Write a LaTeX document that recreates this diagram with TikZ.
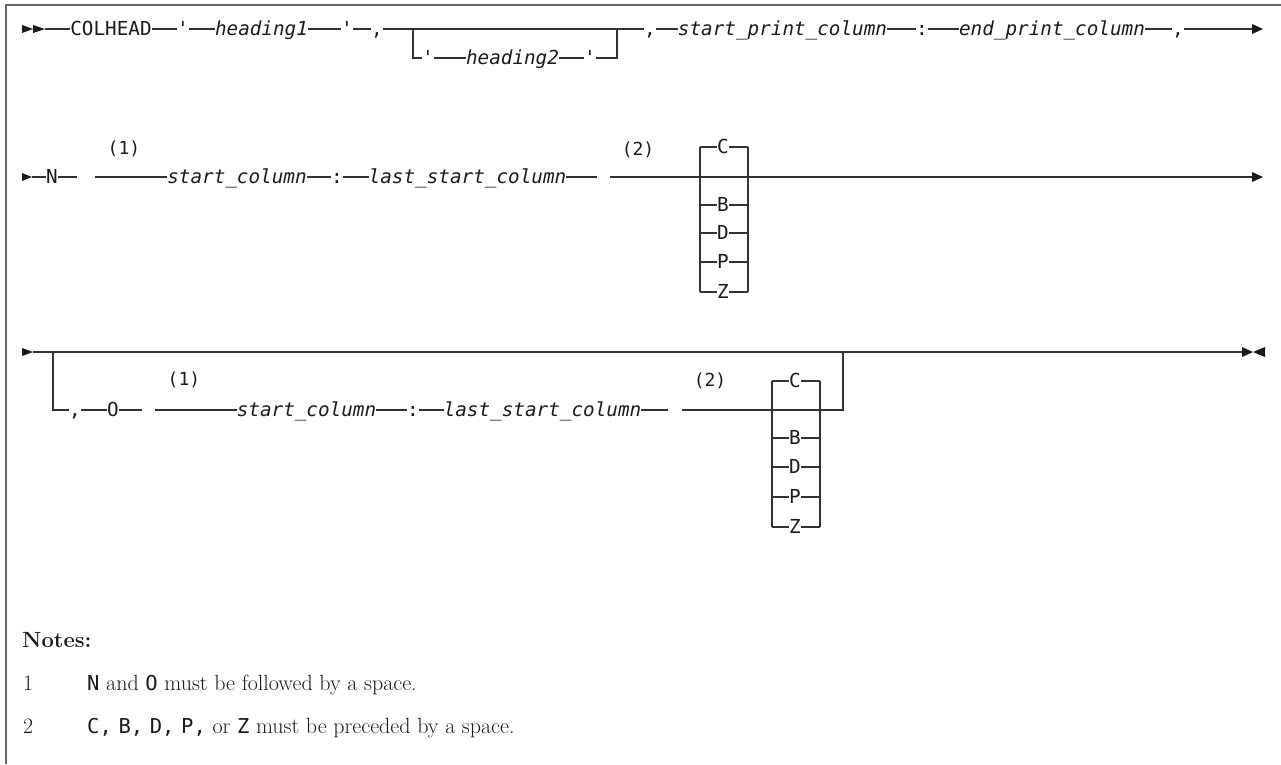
\documentclass[tikz,border=0pt]{standalone}
\usepackage{fontspec}
\newfontfamily\rrfont{DejaVu Sans Mono}
\definecolor{railc}{HTML}{333333}
\definecolor{framec}{HTML}{666666}
\definecolor{txtc}{HTML}{1A1A1A}
\begin{document}
\begin{tikzpicture}[x=1pt,y=-1pt,
  rail/.style={draw=railc, line width=1.3pt, line join=miter},
  tip/.style={fill=txtc},
  tk/.style={inner sep=0pt, text height=14pt, text depth=2pt, text=txtc, font=\fontsize{19.3}{22}\rrfont},
  tki/.style={tk, font=\fontsize{19.3}{22}\rrfont\itshape},
  sup/.style={inner sep=0pt, text=txtc, font=\fontsize{18}{20}\rrfont},
  note/.style={inner sep=0pt, anchor=base west, text=txtc, font=\fontsize{22}{26}\selectfont},
  frame/.style={draw=framec, line width=1.8pt}
]
\useasboundingbox (0,0) rectangle (1281,764);
\draw[frame] (6,764) -- (6,5) -- (1281,5);

% ---------------- Row 1 ----------------
\fill[tip] (22,25) -- (33,29) -- (22,33) -- cycle;
\fill[tip] (33,25) -- (45,29) -- (33,33) -- cycle;
\coordinate (r1s) at (45,29);
\node[tk] (colhead) at (111,29) {COLHEAD};
\node[tk] (q1) at (183,29) {'};
\node[tki] (h1) at (261.5,29) {heading1};
\node[tk] (q2) at (347,29) {'};
\node[tk] (c1) at (377,29) {,};
\coordinate (b1L) at (413,29);
\coordinate (b1R) at (617,29);
\coordinate (b1Ld) at (413,58);
\coordinate (b1Rd) at (617,58);
\node[tk] (q3) at (428,58) {'};
\node[tki] (h2) at (512.5,58) {heading2};
\node[tk] (q4) at (590,58) {'};
\node[tk] (c2) at (650,29) {,};
\node[tki] (spc) at (782.5,29) {start\_print\_column};
\node[tk] (col1) at (922,29) {:};
\node[tki] (epc) at (1052,29) {end\_print\_column};
\node[tk] (c3) at (1178,29) {,};
\coordinate (r1e) at (1252,29);
\fill[tip] (1252,24) -- (1263,29) -- (1252,34) -- cycle;

\draw[rail] (r1s) -- (colhead);
\draw[rail] (colhead) -- (q1);
\draw[rail] (q1) -- (h1);
\draw[rail] (h1) -- (q2);
\draw[rail] (q2) -- (c1);
\draw[rail] (c1) -- (b1L) -- (b1R) -- (c2);
\draw[rail] (b1L) -- (b1Ld) -- (q3);
\draw[rail] (q3) -- (h2);
\draw[rail] (h2) -- (q4);
\draw[rail] (q4) -- (b1Rd) -- (b1R);
\draw[rail] (c2) -- (spc);
\draw[rail] (spc) -- (col1);
\draw[rail] (col1) -- (epc);
\draw[rail] (epc) -- (c3);
\draw[rail] (c3) -- (r1e);

% ---------------- Row 2 ----------------
\fill[tip] (22,173) -- (32,177) -- (22,181) -- cycle;
\coordinate (r2s) at (32,177);
\node[tk] (n) at (52,177) {N};
\coordinate (g1a) at (77,177);
\coordinate (g1b) at (95,177);
\node[sup] (s1) at (124,149) {(1)};
\node[tki] (sc1) at (237,177) {start\_column};
\node[tk] (col2) at (337,177) {:};
\node[tki] (lsc1) at (467.5,177) {last\_start\_column};
\coordinate (g2a) at (597,177);
\coordinate (g2b) at (610,177);
\node[sup] (s2) at (638,150) {(2)};
\coordinate (k1L) at (700,177);
\coordinate (k1R) at (748,177);
\coordinate (k1Lt) at (700,147);
\coordinate (k1Rt) at (748,147);
\coordinate (k1Lb) at (700,292);
\coordinate (k1Rb) at (748,292);
\node[tk] (k1C) at (723,147) {C};
\node[tk] (k1B) at (723,205) {B};
\node[tk] (k1D) at (723,233) {D};
\node[tk] (k1P) at (723,262) {P};
\node[tk] (k1Z) at (723,292) {Z};
\coordinate (r2e) at (1252,177);
\fill[tip] (1252,172) -- (1263,177) -- (1252,182) -- cycle;

\draw[rail] (r2s) -- (n);
\draw[rail] (n) -- (g1a);
\draw[rail] (g1b) -- (sc1);
\draw[rail] (sc1) -- (col2);
\draw[rail] (col2) -- (lsc1);
\draw[rail] (lsc1) -- (g2a);
\draw[rail] (g2b) -- (k1L) -- (k1R) -- (r2e);
\draw[rail] (k1Lt) -- (k1Lb);
\draw[rail] (k1Rt) -- (k1Rb);
\foreach \o/\y in {C/147,B/205,D/233,P/262,Z/292}{
  \draw[rail] (700,\y) -- (k1\o) -- (748,\y);
}

% ---------------- Row 3 ----------------
\fill[tip] (22,348) -- (33,352) -- (22,356) -- cycle;
\coordinate (r3s) at (33,352);
\coordinate (b3L) at (53,352);
\coordinate (b3Ld) at (53,410);
\coordinate (b3R) at (843,352);
\coordinate (b3Rd) at (843,410);
\node[tk] (c4) at (75,410) {,};
\node[tk] (o) at (113,410) {O};
\coordinate (g3a) at (142,410);
\coordinate (g3b) at (155,410);
\node[sup] (s3) at (184,380) {(1)};
\node[tki] (sc2) at (306.5,410) {start\_column};
\node[tk] (col3) at (413,410) {:};
\node[tki] (lsc2) at (542.5,410) {last\_start\_column};
\coordinate (g4a) at (668,410);
\coordinate (g4b) at (682,410);
\node[sup] (s4) at (710,381) {(2)};
\coordinate (k2L) at (772,410);
\coordinate (k2R) at (820,410);
\coordinate (k2Lt) at (772,381);
\coordinate (k2Rt) at (820,381);
\coordinate (k2Lb) at (772,527);
\coordinate (k2Rb) at (820,527);
\node[tk] (k2C) at (795,381) {C};
\node[tk] (k2B) at (795,438) {B};
\node[tk] (k2D) at (795,467) {D};
\node[tk] (k2P) at (795,497) {P};
\node[tk] (k2Z) at (795,527) {Z};
\coordinate (r3e) at (1242,352);
\fill[tip] (1242,347) -- (1253,352) -- (1242,357) -- cycle;
\fill[tip] (1265,347) -- (1253,352) -- (1265,357) -- cycle;

\draw[rail] (r3s) -- (b3L) -- (b3R) -- (r3e);
\draw[rail] (b3L) -- (b3Ld) -- (c4);
\draw[rail] (c4) -- (o);
\draw[rail] (o) -- (g3a);
\draw[rail] (g3b) -- (sc2);
\draw[rail] (sc2) -- (col3);
\draw[rail] (col3) -- (lsc2);
\draw[rail] (lsc2) -- (g4a);
\draw[rail] (g4b) -- (k2L) -- (k2R) -- (b3Rd) -- (b3R);
\draw[rail] (k2Lt) -- (k2Lb);
\draw[rail] (k2Rt) -- (k2Rb);
\foreach \o/\y in {C/381,B/438,D/467,P/497,Z/527}{
  \draw[rail] (772,\y) -- (k2\o) -- (820,\y);
}

% ---------------- Notes ----------------
\node[note, font=\fontsize{22}{26}\selectfont\bfseries] (notes) at (22,647) {Notes:};
\node[note] (n1) at (23,690) {1};
\node[note] (t1) at (87,690) {{\fontsize{20.5}{24}\rrfont N} and {\fontsize{20.5}{24}\rrfont O} must be followed by a space.};
\node[note] (n2) at (23,733) {2};
\node[note] (t2) at (87,733) {{\fontsize{20.5}{24}\rrfont C,} {\fontsize{20.5}{24}\rrfont B,} {\fontsize{20.5}{24}\rrfont D,} {\fontsize{20.5}{24}\rrfont P,} or {\fontsize{20.5}{24}\rrfont Z} must be preceded by a space.};
\end{tikzpicture}
\end{document}
